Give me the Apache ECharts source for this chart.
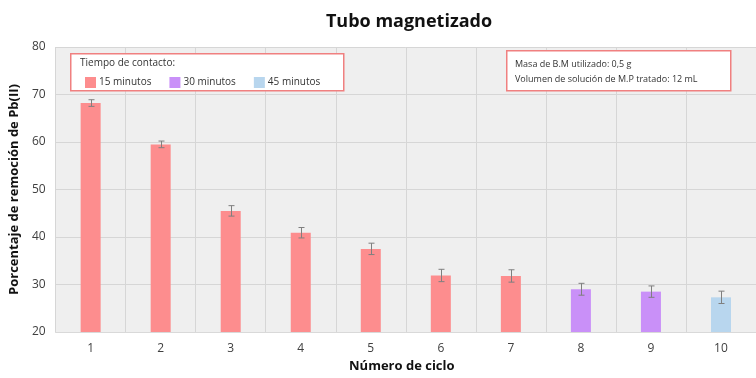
<!DOCTYPE html>
<html><head><meta charset="utf-8">
<script src="https://cdn.jsdelivr.net/npm/echarts@6/dist/echarts.min.js"></script>
<style>html,body{margin:0;padding:0;background:#fff}#c{width:756px;height:378px}</style>
</head><body><div id="c"></div>
<script>
var categories = ['1','2','3','4','5','6','7','8','9','10'];
var values = [68.2, 59.5, 45.5, 40.9, 37.5, 31.9, 31.8, 29.0, 28.5, 27.3];
var errors = [0.7, 0.7, 1.1, 1.1, 1.2, 1.3, 1.3, 1.25, 1.2, 1.3];
var groups = ['15 minutos','15 minutos','15 minutos','15 minutos','15 minutos','15 minutos','15 minutos','30 minutos','30 minutos','45 minutos'];
var seriesNames = ['15 minutos','30 minutos','45 minutos'];
var colors = ['#fd8d8e','#c990f8','#b8d6ee'];
var yTicks = {min: 20, max: 80, interval: 10};

var font = 'Open Sans';
var chart = echarts.init(document.getElementById('c'));
var barSeries = seriesNames.map(function(name, si){
  return {
    name: name, type: 'bar', barWidth: 20, barGap: '-100%',
    itemStyle: {color: colors[si]},
    data: values.map(function(v, i){ return groups[i] === name ? v : '-'; })
  };
});
var errSeries = {
  type: 'custom', name: 'err', silent: true, z: 5,
  data: values.map(function(v, i){ return [i, v - errors[i], v + errors[i]]; }),
  renderItem: function(params, api){
    var x = api.value(0);
    var lo = api.coord([x, api.value(1)]);
    var hi = api.coord([x, api.value(2)]);
    var cx = Math.round(lo[0]) + 0.5;
    var st = {stroke: '#7f7f7f', lineWidth: 1};
    return {type: 'group', children: [
      {type: 'line', shape: {x1: cx, y1: lo[1], x2: cx, y2: hi[1]}, style: st},
      {type: 'line', shape: {x1: cx - 3, y1: lo[1], x2: cx + 3, y2: lo[1]}, style: st},
      {type: 'line', shape: {x1: cx - 3, y1: hi[1], x2: cx + 3, y2: hi[1]}, style: st}
    ]};
  }
};
chart.setOption({
  animation: false,
  textStyle: {fontFamily: font},
  title: {text: 'Tubo magnetizado', left: 404, top: 8, textAlign: 'center',
    textStyle: {fontFamily: font, fontSize: 18, fontWeight: 'bold', color: '#111'}},
  grid: {left: 54.5, right: -7.5, top: 47, bottom: 42, show: true, backgroundColor: '#efefef', borderWidth: 0},
  legend: {
    data: seriesNames, left: 80, top: 72, itemWidth: 11, itemHeight: 11, itemGap: 18, z: 30,
    textStyle: {fontFamily: font, fontSize: 10, color: '#333', padding: [0, 0, 0, -2]},
    icon: 'rect'
  },
  xAxis: {
    type: 'category', data: categories,
    name: 'Número de ciclo', nameLocation: 'middle', nameGap: 28,
    nameTextStyle: {fontFamily: font, fontSize: 13, fontWeight: 'bold', color: '#111', padding: [0, 0, 0, -8]},
    axisLine: {show: true, lineStyle: {color: '#d9d9d9'}},
    axisTick: {show: false},
    axisLabel: {fontFamily: font, fontSize: 12, color: '#404040', margin: 11},
    splitLine: {show: true, lineStyle: {color: '#d6d6d6', width: 1}}
  },
  yAxis: {
    type: 'value', min: yTicks.min, max: yTicks.max, interval: yTicks.interval,
    name: 'Porcentaje de remoción de Pb(II)', nameLocation: 'middle', nameGap: 28,
    nameTextStyle: {fontFamily: font, fontSize: 13, fontWeight: 'bold', color: '#111'},
    axisLine: {show: false}, axisTick: {show: false},
    axisLabel: {fontFamily: font, fontSize: 12, color: '#404040', margin: 10},
    splitLine: {show: true, lineStyle: {color: '#d6d6d6', width: 1}}
  },
  graphic: [
    {type: 'rect', left: 70, top: 53, shape: {width: 273, height: 37}, z: 10,
      style: {fill: '#ffffff', stroke: '#f08080', lineWidth: 1.5}},
    {type: 'text', left: 80, top: 58, z: 11,
      style: {text: 'Tiempo de contacto:', font: '10px "Open Sans"', fill: '#333'}},
    {type: 'rect', left: 506, top: 50, shape: {width: 224, height: 40}, z: 10,
      style: {fill: '#ffffff', stroke: '#f08080', lineWidth: 1.5}},
    {type: 'text', left: 515, top: 57, z: 11,
      style: {text: 'Masa de B.M utilizado: 0,5 g\nVolumen de solución de M.P tratado: 12 mL',
        font: '9px "Open Sans"', lineHeight: 15, fill: '#333'}}
  ],
  series: barSeries.concat([errSeries])
});
</script></body></html>
